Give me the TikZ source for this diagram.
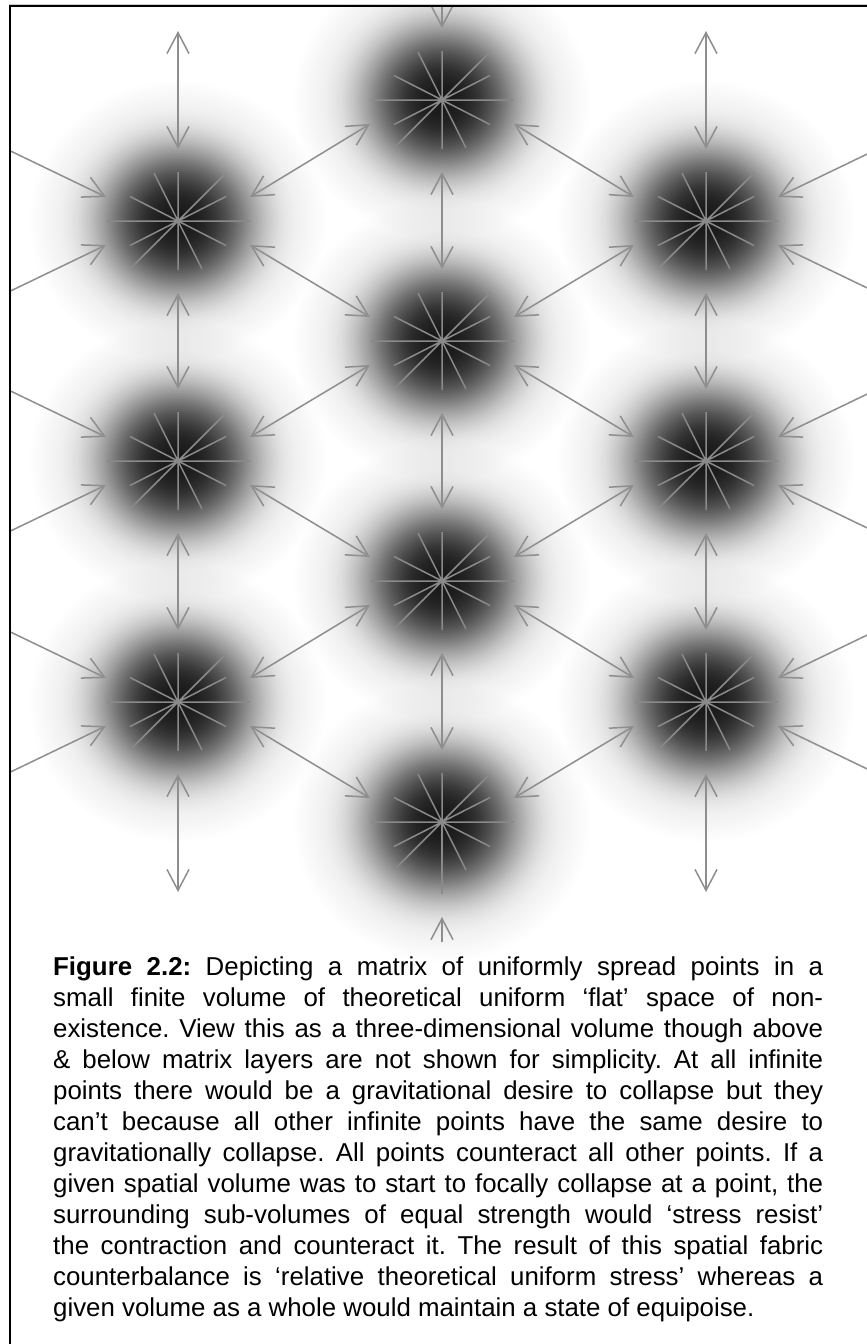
\documentclass[tikz,border=0pt]{standalone}
\usepackage{fontspec}
\setmainfont{Liberation Sans}
\usetikzlibrary{arrows.meta,calc}
\definecolor{arrgray}{HTML}{8E8E8E}
\definecolor{stargray}{HTML}{8A8A8A}
\tikzset{
  hub/.style={rectangle, minimum width=144pt, minimum height=48pt, inner sep=0pt, outer sep=0pt},
  starline/.style={stargray, line width=1.5pt},
  arr/.style={arrgray, line width=1.5pt, arrows={Straight Barb[length=21pt,width=22pt]-Straight Barb[length=21pt,width=22pt]}},
  arrin/.style={arrgray, line width=1.5pt, arrows={-Straight Barb[length=21pt,width=22pt]}},
  frame/.style={black, line width=2.2pt},
  captext/.style={font=\fontsize{25.85pt}{31pt}\selectfont, inner sep=0pt, anchor=base west},
  starburst/.pic={
    \draw[starline] (-72,0)--(72,0) (0,-49)--(0,49) (-48,48)--(48,-48)
      (-48,24.5)--(48,-24.5) (-48,-24.5)--(48,24.5) (-24,-48)--(24,48);
  }
}
\begin{document}
\frenchspacing
\begin{tikzpicture}[x=1pt,y=-1pt,
  declare function={blobop(\t)=0.6*exp(-(\t/70)^3)+0.27*exp(-(\t/95)^2);}]
\useasboundingbox (0,0) rectangle (867,1344);
\fill[white] (0,0) rectangle (867,1344);
% lattice points
\node[hub] (L1) at (178,221) {};
\node[hub] (L2) at (178,461) {};
\node[hub] (L3) at (178,702) {};
\node[hub] (M1) at (442,100) {};
\node[hub] (M2) at (442,341) {};
\node[hub] (M3) at (442,581) {};
\node[hub] (M4) at (442,822) {};
\node[hub] (R1) at (706,221) {};
\node[hub] (R2) at (706,461) {};
\node[hub] (R3) at (706,702) {};
\begin{scope}
\clip (10,6) rectangle (867,1344);
% blobs: stacked translucent discs giving a soft radial falloff
\foreach \n in {L1,L2,L3,M1,M2,M3,M4,R1,R2,R3}{
  \foreach \r in {170,168,...,2}{
    \pgfmathsetmacro\al{1-(1-blobop(\r))/(1-blobop(\r+2))}
    \fill[black, fill opacity=\al] (\n.center) ellipse[x radius=1.06*\r pt, y radius=\r pt];
  }
}
% stars
\foreach \n in {L1,L2,L3,M1,M2,M3,M4,R1,R2,R3}{
  \pic at (\n.center) {starburst};
}
\draw[starline] (M4.center) -- ($(M4.center)+(0,72)$);
% vertical connectors
\foreach \a/\b in {L1/L2,L2/L3,M1/M2,M2/M3,M3/M4,R1/R2,R2/R3}{
  \draw[arr] ($(\a.center)+(0,72)$) -- ($(\b.center)+(0,-72)$);
}
% diagonal connectors
\draw[arr] (M1.south west) -- (L1.north east);
\draw[arr] (M1.south east) -- (R1.north west);
\draw[arr] (L1.south east) -- (M2.north west);
\draw[arr] (R1.south west) -- (M2.north east);
\draw[arr] (M2.south west) -- (L2.north east);
\draw[arr] (M2.south east) -- (R2.north west);
\draw[arr] (L2.south east) -- (M3.north west);
\draw[arr] (R2.south west) -- (M3.north east);
\draw[arr] (M3.south west) -- (L3.north east);
\draw[arr] (M3.south east) -- (R3.north west);
\draw[arr] (L3.south east) -- (M4.north west);
\draw[arr] (R3.south west) -- (M4.north east);
% edge connectors, left and right
\foreach \n in {L1,L2,L3}{
  \draw[arrin] ($(\n.north west)+(-110,-53)$) -- (\n.north west);
  \draw[arrin] ($(\n.south west)+(-110,53)$) -- (\n.south west);
}
\foreach \n in {R1,R2,R3}{
  \draw[arrin] ($(\n.north east)+(110,-53)$) -- (\n.north east);
  \draw[arrin] ($(\n.south east)+(110,53)$) -- (\n.south east);
}
% edge connectors, top and bottom
\draw[arr] ($(L1.center)+(0,-190)$) -- ($(L1.center)+(0,-72)$);
\draw[arr] ($(R1.center)+(0,-190)$) -- ($(R1.center)+(0,-72)$);
\draw[arrin] ($(M1.center)+(0,-110)$) -- ($(M1.center)+(0,-72)$);
\draw[arr] ($(L3.center)+(0,72)$) -- ($(L3.center)+(0,190)$);
\draw[arr] ($(R3.center)+(0,72)$) -- ($(R3.center)+(0,190)$);
\draw[arrin] ($(M4.center)+(0,120)$) -- ($(M4.center)+(0,95)$);
\end{scope}
% frame
\draw[black!20, line width=1pt] (9,4) -- (867,4);
\draw[frame] (10,1344) -- (10,6) -- (867,6);
% caption
\node[captext] (c1) at (53,975) {\makebox[770pt][s]{\textbf{Figure 2.2:} Depicting a matrix of uniformly spread points in a}};
\node[captext] (c2) at (53,1006) {\makebox[770pt][s]{small finite volume of theoretical uniform ‘flat’ space of non-}};
\node[captext] (c3) at (53,1037) {\makebox[770pt][s]{existence. View this as a three-dimensional volume though above}};
\node[captext] (c4) at (53,1068) {\makebox[770pt][s]{\& below matrix layers are not shown for simplicity. At all infinite}};
\node[captext] (c5) at (53,1099) {\makebox[770pt][s]{points there would be a gravitational desire to collapse but they}};
\node[captext] (c6) at (53,1130) {\makebox[770pt][s]{can’t because all other infinite points have the same desire to}};
\node[captext] (c7) at (53,1161) {\makebox[770pt][s]{gravitationally collapse. All points counteract all other points. If a}};
\node[captext] (c8) at (53,1192) {\makebox[770pt][s]{given spatial volume was to start to focally collapse at a point, the}};
\node[captext] (c9) at (53,1223) {\makebox[770pt][s]{surrounding sub-volumes of equal strength would ‘stress resist’}};
\node[captext] (c10) at (53,1254) {\makebox[770pt][s]{the contraction and counteract it. The result of this spatial fabric}};
\node[captext] (c11) at (53,1285) {\makebox[770pt][s]{counterbalance is ‘relative theoretical uniform stress’ whereas a}};
\node[captext] (c12) at (53,1316) {\makebox[770pt][l]{given volume as a whole would maintain a state of equipoise.}};
\end{tikzpicture}
\end{document}
